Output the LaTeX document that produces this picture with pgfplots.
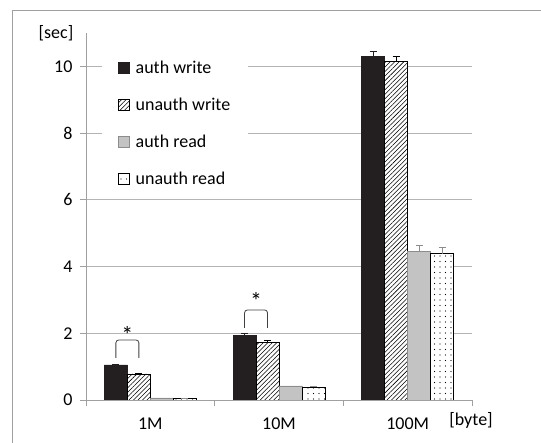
\documentclass[border=0pt]{standalone}
\usepackage{fontspec}
\setmainfont{Carlito}
\usepackage{pgfplots}
\pgfplotsset{compat=1.18}
\usetikzlibrary{patterns.meta}

\definecolor{barblack}{HTML}{231F20}
\definecolor{gridgray}{HTML}{B4B4B4}
\definecolor{axisgray}{HTML}{A0A0A0}
\definecolor{barlgray}{HTML}{C3C3C3}
\definecolor{bargrayedge}{HTML}{8C8C8C}

\pgfplotsset{
  sqlegend/.style={legend image code/.code={\draw[##1,/tikz/.cd,line width=0.7pt] (0pt,-5.5pt) rectangle (11pt,5.5pt); \path (15pt,0pt);}},
}
\newcommand{\lab}{\fontsize{18}{21}\selectfont}

\begin{document}
\begin{tikzpicture}
\useasboundingbox (0pt,0pt) rectangle (541pt,443pt);
\draw[axisgray, line width=1pt] (12.5pt,0pt) -- (12.5pt,432.5pt) -- (541pt,432.5pt);
\begin{axis}[
  at={(86pt,43pt)}, anchor=south west,
  scale only axis, width=386pt, height=367pt,
  xmin=-0.5, xmax=2.5, ymin=0, ymax=11,
  ybar=0pt, bar width=23pt,
  axis x line*=bottom, axis y line*=left,
  axis line style={axisgray, line width=0.8pt, -},
  ytick={0,2,4,6,8,10},
  ymajorgrids, major grid style={gridgray, line width=0.8pt},
  xtick={-0.5,0.5,1.5,2.5}, xticklabels={},
  extra x ticks={0,1,2}, extra x tick labels={1M,10M,100M},
  extra x tick style={major tick length=0pt, grid=none, xticklabel style={yshift=-14pt}},
  tick align=outside, major tick length=6pt,
  tick style={axisgray, line width=0.8pt},
  ticklabel style={font=\lab},
  /pgf/number format/assume math mode=true,
  yticklabel style={xshift=-4pt},
  legend style={at={(0.041,0.946)}, anchor=north west, draw=none, fill=white,
    font=\lab, row sep=19pt, inner xsep=16pt, inner ysep=6pt,
    cells={anchor=west}},
  legend cell align=left,
  error bars/y dir=plus, error bars/y explicit,
  error bars/error mark options={rotate=90, mark size=3.5pt, line width=0.8pt},
]
\addplot[sqlegend, fill=barblack, draw=barblack, line width=0.6pt,
  error bars/error bar style={barblack, line width=0.8pt}]
  coordinates {(0,1.05) +- (0,0.02) (1,1.93) +- (0,0.08) (2,10.29) +- (0,0.15)};
\addlegendentry{auth write}
\addplot[sqlegend, fill=white, draw=black, line width=0.6pt,
  postaction={pattern={Lines[angle=45,distance=3.2pt,line width=0.55pt]}, pattern color=black},
  error bars/error bar style={black, line width=0.8pt}]
  coordinates {(0,0.78) +- (0,0.03) (1,1.72) +- (0,0.07) (2,10.14) +- (0,0.16)};
\addlegendentry{unauth write}
\addplot[sqlegend, fill=barlgray, draw=bargrayedge, line width=0.6pt,
  error bars/error bar style={bargrayedge, line width=0.8pt}]
  coordinates {(0,0.06) +- (0,0.0) (1,0.42) +- (0,0.0) (2,4.45) +- (0,0.18)};
\addlegendentry{auth read}
\addplot[sqlegend, fill=white, draw=black, line width=0.6pt,
  postaction={pattern={Dots[distance=5.5pt,radius=0.7pt]}, pattern color=black},
  error bars/error bar style={bargrayedge, line width=0.8pt}]
  coordinates {(0,0.06) +- (0,0.0) (1,0.39) +- (0,0.03) (2,4.39) +- (0,0.18)};
\addlegendentry{unauth read}
% significance brackets
\draw[black!75, line width=0.8pt, rounded corners=3pt]
  (axis cs:-0.268,1.26) -- (axis cs:-0.268,1.80) -- (axis cs:-0.089,1.80) -- (axis cs:-0.089,1.26);
\node[font=\fontsize{24}{26}\selectfont] at (axis cs:-0.178,1.95) {*};
\draw[black!75, line width=0.8pt, rounded corners=3pt]
  (axis cs:0.732,2.16) -- (axis cs:0.732,2.70) -- (axis cs:0.911,2.70) -- (axis cs:0.911,2.16);
\node[font=\fontsize{24}{26}\selectfont] at (axis cs:0.822,2.97) {*};
\end{axis}
\node[font=\lab] at (56pt,410pt) {[sec]};
\node[font=\lab] at (471pt,23pt) {[byte]};
\end{tikzpicture}
\end{document}
